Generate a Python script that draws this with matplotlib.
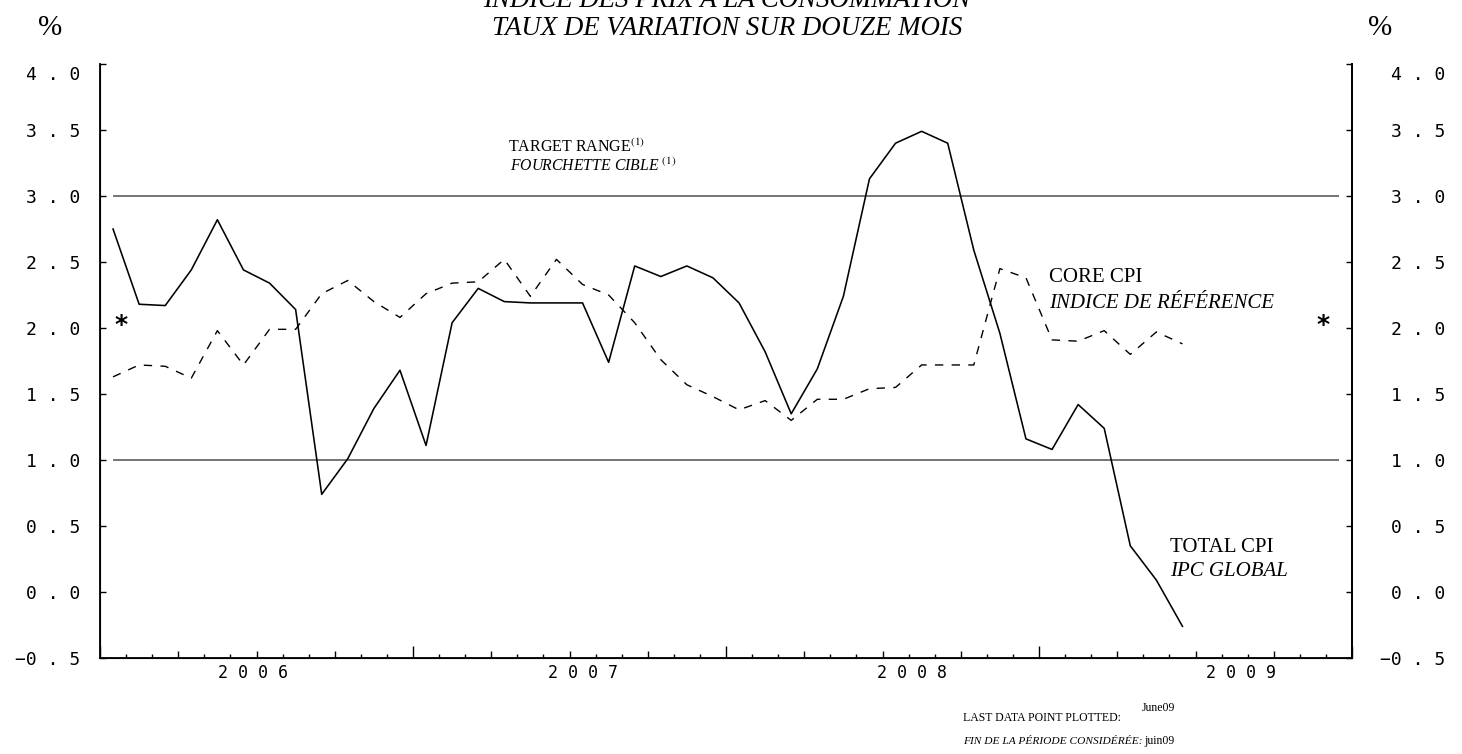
import numpy as np
import matplotlib
matplotlib.use("Agg")
import matplotlib.pyplot as plt
from matplotlib.transforms import ScaledTranslation

plt.rcParams['mathtext.fontset'] = 'stix'

# ---- data (monthly, Jan 2006 .. Jun 2009) ----
start_year = 2006
total_cpi = [2.75, 2.18, 2.17, 2.44, 2.82, 2.44, 2.34, 2.14, 0.74, 1.01, 1.39, 1.68,
             1.11, 2.04, 2.30, 2.20, 2.19, 2.19, 2.19, 1.74, 2.47, 2.39, 2.47, 2.38,
             2.19, 1.82, 1.35, 1.69, 2.24, 3.13, 3.40, 3.49, 3.40, 2.59, 1.96, 1.16,
             1.08, 1.42, 1.24, 0.35, 0.09, -0.26]
core_cpi = [1.63, 1.72, 1.71, 1.62, 1.98, 1.72, 1.99, 1.99, 2.26, 2.36, 2.20, 2.08,
            2.26, 2.34, 2.35, 2.52, 2.24, 2.52, 2.33, 2.25, 2.04, 1.76, 1.57, 1.48,
            1.38, 1.45, 1.30, 1.46, 1.46, 1.54, 1.55, 1.72, 1.72, 1.72, 2.45, 2.38,
            1.91, 1.90, 1.98, 1.80, 1.97, 1.88]
target_range = [1.0, 3.0]
year_labels = ["2006", "2007", "2008", "2009"]
ytick_values = [-0.5, 0.0, 0.5, 1.0, 1.5, 2.0, 2.5, 3.0, 3.5, 4.0]
ytick_labels = ["−0.5", "0.0", "0.5", "1.0", "1.5", "2.0", "2.5", "3.0", "3.5", "4.0"]
last_point_en = "June09"
last_point_fr = "juin09"

W, H = 1462, 754
AX_L, AX_R, AX_T, AX_B = 100, 1352, 64, 658
fig = plt.figure(figsize=(W / 100, H / 100), dpi=100)
ax = fig.add_axes([AX_L / W, (H - AX_B) / H, (AX_R - AX_L) / W, (AX_B - AX_T) / H])
n_months = 12 * len(year_labels)
ax.set_xlim(0, n_months)
ax.set_ylim(-0.5, 4.0)

def px2y(py):
    return -0.5 + (AX_B - py) / (AX_B - AX_T) * 4.5

def px2x(px):
    return (px - AX_L) / (AX_R - AX_L) * n_months

x = np.arange(len(total_cpi)) + 0.5

# target range lines
ax.hlines(target_range, 0.5, n_months - 0.5, colors='#6a6a6a', lw=1.3, zorder=1)

ax.plot(x, total_cpi, color='black', lw=1.15, zorder=3)
ax.plot(x, core_cpi, color='black', lw=1.0, dashes=(6, 6), zorder=3)

# spines
ax.spines['top'].set_visible(False)
for s in ['left', 'right', 'bottom']:
    ax.spines[s].set_linewidth(1.3)

def spaced(s):
    return s.replace('.', ' . ')

mono = 'DejaVu Sans Mono'

# y axis (left)
ax.set_yticks(ytick_values)
ax.set_yticklabels([spaced(t) for t in ytick_labels], fontfamily=mono, fontsize=13)
ax.tick_params(axis='y', direction='in', length=4, width=1.0, pad=14.4)

# y axis (right)
ax2 = ax.twinx()
ax2.set_ylim(ax.get_ylim())
ax2.spines['top'].set_visible(False)
ax2.spines['right'].set_linewidth(1.3)
ax2.set_yticks(ytick_values)
ax2.set_yticklabels([spaced(t) for t in ytick_labels], fontfamily=mono, fontsize=13)
ax2.tick_params(axis='y', direction='in', length=4, width=1.0, pad=67)
for t in ax2.yaxis.get_major_ticks():
    t.label2.set_horizontalalignment('right')

# shift the top labels down a little
off = ScaledTranslation(0, -9 / 100, fig.dpi_scale_trans)
ax.yaxis.get_major_ticks()[-1].label1.set_transform(
    ax.yaxis.get_major_ticks()[-1].label1.get_transform() + off)
ax2.yaxis.get_major_ticks()[-1].label2.set_transform(
    ax2.yaxis.get_major_ticks()[-1].label2.get_transform() + off)

# x axis ticks
ax.set_xticks(np.arange(0, n_months + 1, 3))
ax.set_xticks(np.arange(0, n_months + 1, 1), minor=True)
ax.set_xticklabels([])
ax.tick_params(axis='x', which='major', direction='in', length=5, width=1.0)
ax.tick_params(axis='x', which='minor', direction='in', length=2.9, width=1.0)
for pos, t in zip(np.arange(0, n_months + 1, 3), ax.xaxis.get_major_ticks()):
    if pos % 12 == 0:
        t.tick1line.set_markersize(8.6)

# year labels (positions as placed in the original layout)
year_label_px = [253, 583, 912, 1241]
for lab, px in zip(year_labels, year_label_px):
    ax.text(px2x(px), -15 / 594, " ".join(lab), transform=ax.get_xaxis_transform(),
            ha='center', va='center', fontfamily=mono, fontsize=12)

serif = 'Liberation Serif'
# annotations
ax.text(px2x(121), px2y(325), "*", fontfamily='DejaVu Sans', fontweight='bold', fontsize=18,
        ha='center', va='center')
ax.text(px2x(1323), px2y(325), "*", fontfamily='DejaVu Sans', fontweight='bold', fontsize=18,
        ha='center', va='center')

ax.text(px2x(508), px2y(147), r"TARGET RANGE$^{\mathrm{(1)}}$", fontfamily=serif,
        fontsize=11.5, ha='left', va='center')
ax.text(px2x(510), px2y(166), r"FOURCHETTE CIBLE $^{\mathrm{(1)}}$", fontfamily=serif,
        fontstyle='italic', fontsize=11.3, ha='left', va='center')
ax.text(px2x(1049), px2y(278), "CORE CPI", fontfamily=serif, fontsize=15,
        ha='left', va='center')
ax.text(px2x(1049), px2y(304), "INDICE DE RÉFÉRENCE", fontfamily=serif,
        fontstyle='italic', fontsize=15, ha='left', va='center')
ax.text(px2x(1170), px2y(547), "TOTAL CPI", fontfamily=serif, fontsize=15,
        ha='left', va='center')
ax.text(px2x(1170), px2y(571), "IPC GLOBAL", fontfamily=serif,
        fontstyle='italic', fontsize=15, ha='left', va='center')

# titles
fig.text(727 / W, 1 - 7 / H, "INDICE DES PRIX À LA CONSOMMATION", fontfamily=serif,
         fontstyle='italic', fontsize=19.4, ha='center', va='baseline')
fig.text(727 / W, 1 - 35 / H, "TAUX DE VARIATION SUR DOUZE MOIS", fontfamily=serif,
         fontstyle='italic', fontsize=19.4, ha='center', va='baseline')
fig.text(50 / W, 1 - 28 / H, "%", fontfamily=serif, fontsize=21, ha='center', va='center')
fig.text(1380 / W, 1 - 28 / H, "%", fontfamily=serif, fontsize=21, ha='center', va='center')

# footer
fig.text(963 / W, 1 - 718 / H, "LAST DATA POINT PLOTTED:", fontfamily=serif,
         fontsize=8.5, ha='left', va='center')
fig.text(963 / W, 1 - 741 / H, "FIN DE LA PÉRIODE CONSIDÉRÉE:", fontfamily=serif,
         fontstyle='italic', fontsize=8.2, ha='left', va='center')
fig.text(1175 / W, 1 - 708 / H, last_point_en, fontfamily=serif,
         fontsize=8.5, ha='right', va='center')
fig.text(1175 / W, 1 - 741 / H, last_point_fr, fontfamily=serif,
         fontsize=8.5, ha='right', va='center')

fig.savefig("out.png", dpi=100)
